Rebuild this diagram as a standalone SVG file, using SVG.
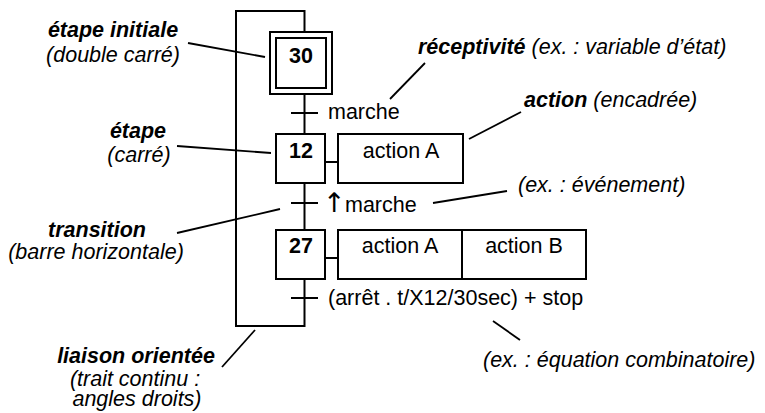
<svg xmlns="http://www.w3.org/2000/svg" width="765" height="413" viewBox="0 0 765 413">
<style>
  .ln { fill: none; stroke: #000; stroke-width: 2; }
  .box { fill: #fff; stroke: #000; stroke-width: 2; }
  .lead { fill: none; stroke: #000; stroke-width: 1.8; }
  text { font-family: "Liberation Sans", Arial, sans-serif; font-size: 21.5px; fill: #000; }
  .num { font-weight: bold; text-anchor: middle; }
  .mid { text-anchor: middle; }
  .bi { font-weight: bold; font-style: italic; }
  .it { font-style: italic; }
  .arw { font-family: "DejaVu Sans", sans-serif; font-size: 27px; }
</style>
<rect width="765" height="413" fill="#fff"/>

<g id="connectors">
  <!-- oriented links (loop and main line) -->
  <path class="ln" d="M304.5,32 V11 H236 V326 H304.5 V279"/>
  <path class="ln" d="M304.5,94 V134"/>
  <path class="ln" d="M304.5,183 V230"/>
  <!-- step-action links -->
  <path class="ln" d="M325,162 H338"/>
  <path class="ln" d="M325,258 H338"/>
  <!-- leader lines -->
  <path class="lead" d="M188,43 L265,57"/>
  <path class="lead" d="M177,146 L271,153"/>
  <path class="lead" d="M177,233 L280,209"/>
  <path class="lead" d="M222,367 L255,330"/>
  <path class="lead" d="M425,63 L390,99"/>
  <path class="lead" d="M521,112 L469,139"/>
  <path class="lead" d="M507,191 L433,203"/>
  <path class="lead" d="M493,321 L520,340"/>
</g>

<g id="step30">
  <rect class="box" x="270" y="32" width="62" height="62"/>
  <rect class="box" x="276" y="38" width="50" height="50"/>
  <text class="num" x="301" y="63">30</text>
</g>

<g id="transition1">
  <path class="ln" d="M291,113 H318"/>
  <text x="328" y="119">marche</text>
</g>

<g id="step12">
  <rect class="box" x="276" y="134" width="49" height="49"/>
  <text class="num" x="301" y="158">12</text>
</g>

<g id="action12">
  <rect class="box" x="338" y="134" width="125" height="49"/>
  <text class="mid" x="401" y="158">action A</text>
</g>

<g id="transition2">
  <path class="ln" d="M291,203 H318"/>
  <text x="323" y="212"><tspan class="arw">↑</tspan><tspan x="345">marche</tspan></text>
</g>

<g id="step27">
  <rect class="box" x="276" y="230" width="49" height="49"/>
  <text class="num" x="301" y="253">27</text>
</g>

<g id="action27">
  <rect class="box" x="338" y="230" width="248" height="49"/>
  <path class="ln" d="M462,230 V279"/>
  <text class="mid" x="400" y="253">action A</text>
  <text class="mid" x="524" y="253">action B</text>
</g>

<g id="transition3">
  <path class="ln" d="M291,298 H318"/>
  <text x="328" y="305">(arrêt . t/X12/30sec) + stop</text>
</g>

<g id="label-initial">
  <text class="mid bi" x="113" y="37">étape initiale</text>
  <text class="mid it" x="113" y="62">(double carré)</text>
</g>
<g id="label-etape">
  <text class="mid bi" x="138" y="138">étape</text>
  <text class="mid it" x="139" y="162">(carré)</text>
</g>
<g id="label-transition">
  <text class="mid bi" x="97" y="237">transition</text>
  <text class="mid it" x="96" y="259">(barre horizontale)</text>
</g>
<g id="label-liaison">
  <text class="mid bi" x="136" y="363">liaison orientée</text>
  <text class="mid it" x="135" y="386">(trait continu :</text>
  <text class="mid it" x="137" y="406">angles droits)</text>
</g>
<g id="label-receptivite">
  <text x="418" y="54"><tspan class="bi">réceptivité</tspan><tspan class="it"> (ex. : variable d’état)</tspan></text>
</g>
<g id="label-action">
  <text x="524" y="107"><tspan class="bi">action</tspan><tspan class="it"> (encadrée)</tspan></text>
</g>
<g id="label-evenement">
  <text class="it" x="518" y="192">(ex. : événement)</text>
</g>
<g id="label-equation">
  <text class="it" x="483" y="367">(ex. : équation combinatoire)</text>
</g>
</svg>
